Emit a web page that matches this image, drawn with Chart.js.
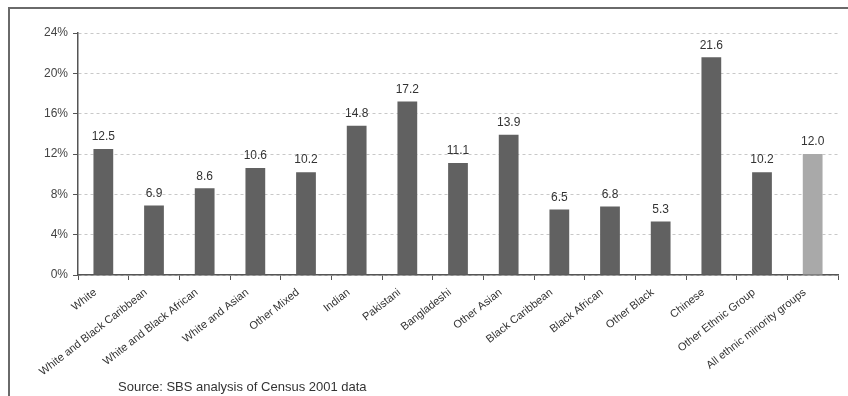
<!DOCTYPE html>
<html>
<head>
<meta charset="utf-8">
<script src="https://cdn.jsdelivr.net/npm/chart.js@4"></script>
<style>
  html, body { margin: 0; padding: 0; background: #fff; }
  #wrap { position: relative; width: 848px; height: 396px; }
  #frame { position: absolute; left: 8px; top: 7px; right: 0; bottom: 0;
           border-top: 2px solid #6a6a6a; border-left: 2px solid #6a6a6a; }
  #source { position: absolute; left: 118px; top: 379px; font: 13px "Liberation Sans", Arial, sans-serif; color: #333; }
  canvas { position: absolute; left: 0; top: 0; }
</style>
</head>
<body>
<div id="wrap">
  <div id="frame"></div>
  <canvas id="chart" width="848" height="396"></canvas>
  <div id="source">Source: SBS analysis of Census 2001 data</div>
</div>
<script>
// categories and values
const groups = ['White', 'White and Black Caribbean', 'White and Black African', 'White and Asian',
  'Other Mixed', 'Indian', 'Pakistani', 'Bangladeshi', 'Other Asian', 'Black Caribbean',
  'Black African', 'Other Black', 'Chinese', 'Other Ethnic Group', 'All ethnic minority groups'];
const rates = [12.5, 6.9, 8.6, 10.6, 10.2, 14.8, 17.2, 11.1, 13.9, 6.5, 6.8, 5.3, 21.6, 10.2, 12.0];
const yTicks = [0, 4, 8, 12, 16, 20, 24];

const barColors = groups.map((g, i) => i === groups.length - 1 ? '#a9a9a9' : '#616161');

// values above the bars
const valueLabels = {
    id: 'valueLabels',
    afterDatasetsDraw(chart) {
        const ctx = chart.ctx;
        const meta = chart.getDatasetMeta(0);
        ctx.save();
        ctx.font = '12px "Liberation Sans", Arial, sans-serif';
        ctx.fillStyle = '#333';
        ctx.textAlign = 'center';
        ctx.textBaseline = 'bottom';
        meta.data.forEach((bar, i) => {
            ctx.fillText(rates[i].toFixed(1), bar.x, bar.y - 6);
        });
        ctx.restore();
    }
};

new Chart(document.getElementById('chart'), {
    type: 'bar',
    data: {
        labels: groups,
        datasets: [{
            data: rates,
            backgroundColor: barColors,
            barPercentage: 0.39,
            categoryPercentage: 1.0
        }]
    },
    options: {
        responsive: false,
        animation: false,
        layout: { padding: { top: 33, right: 10, left: 0, bottom: 0 } },
        plugins: { legend: { display: false }, tooltip: { enabled: false } },
        scales: {
            x: {
                grid: { offset: true, drawOnChartArea: false, drawTicks: true, tickLength: 5, tickColor: '#555', tickWidth: 1 },
                border: { color: '#555', width: 1.5 },
                ticks: {
                    autoSkip: false, maxRotation: 38, minRotation: 38, padding: 6, labelOffset: -8,
                    color: '#333', font: { family: '"Liberation Sans", Arial, sans-serif', size: 11 }
                },
                afterFit(scale) { scale.height = 121; }
            },
            y: {
                min: 0, max: 24,
                afterBuildTicks(scale) { scale.ticks = yTicks.map(v => ({ value: v })); },
                grid: { color: '#c8c8c8', lineWidth: 1, drawTicks: true, tickLength: 5, tickColor: '#555', tickWidth: 1 },
                border: { color: '#555', width: 1.5, dash: [3, 3] },
                ticks: {
                    padding: 5, color: '#444',
                    font: { family: '"Liberation Sans", Arial, sans-serif', size: 12 },
                    callback: v => v + '%'
                },
                afterFit(scale) { scale.width = 78; }
            }
        }
    },
    plugins: [valueLabels]
});
</script>
</body>
</html>
